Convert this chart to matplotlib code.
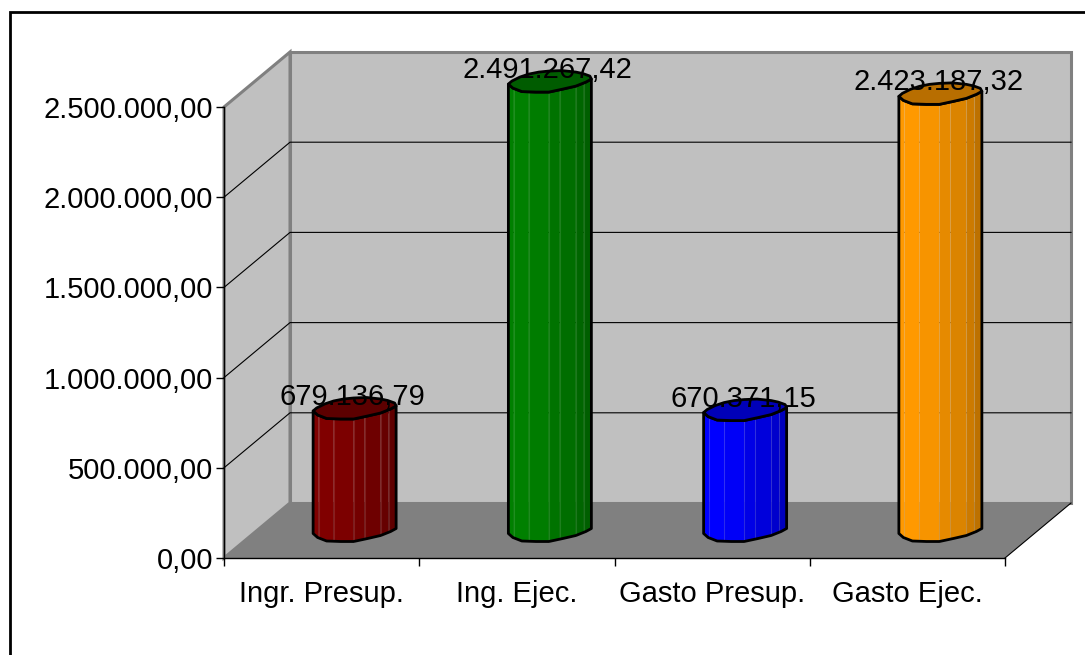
import numpy as np
import matplotlib
matplotlib.use('Agg')
import matplotlib.pyplot as plt
from matplotlib.patches import Polygon

plt.rcParams['font.family'] = ['Liberation Sans', 'DejaVu Sans']

# Data
categorias = ['Ingr. Presup.', 'Ing. Ejec.', 'Gasto Presup.', 'Gasto Ejec.']
valores = [679136.79, 2491267.42, 670371.15, 2423187.32]
etiquetas = ['679.136,79', '2.491.267,42', '670.371,15', '2.423.187,32']
y_ticks = [0, 500000, 1000000, 1500000, 2000000, 2500000]
y_labels = ['0,00', '500.000,00', '1.000.000,00', '1.500.000,00', '2.000.000,00', '2.500.000,00']
colores = ['#800000', '#008000', '#0000FF', '#FF9900']

# Figure layout, in pixels
W, H = 1085, 655
LEFT, RIGHT, TOP, BOTTOM = 224, 1005, 107, 558
DEPTH_X, DEPTH_Y = 66, 55

fig = plt.figure(figsize=(W / 100, H / 100), dpi=100, facecolor='white')
ax = fig.add_axes([LEFT / W, 1 - BOTTOM / H, (RIGHT - LEFT) / W, (BOTTOM - TOP) / H])
ax.set_xlim(0, 4)
ax.set_ylim(0, 2500000)
ax.patch.set_visible(False)

px_x = 4 / (RIGHT - LEFT)
px_y = 2500000 / (BOTTOM - TOP)


def pt(x, y, depth=0.0, ox=0.0, oy=0.0):
    # data point pushed back into the 3d box, with a small offset in pixels
    return (x + (depth * DEPTH_X + ox) * px_x, y + (depth * DEPTH_Y + oy) * px_y)


def poly(points, **kw):
    kw.setdefault('clip_on', False)
    p = Polygon(points, closed=True, **kw)
    ax.add_patch(p)
    return p


# walls and floor
poly([pt(0, 0, 1), pt(4, 0, 1), pt(4, 2500000, 1), pt(0, 2500000, 1)],
     fc='#C0C0C0', ec='#808080', lw=2.2, zorder=1)
poly([pt(0, 0), pt(0, 0, 1), pt(0, 2500000, 1), pt(0, 2500000)],
     fc='#C0C0C0', ec='#808080', lw=2.2, zorder=1)
poly([pt(0, 0), pt(4, 0), pt(4, 0, 1), pt(0, 0, 1)], fc='#808080', ec='none', zorder=2)

# grid lines
for v in y_ticks[1:-1]:
    xs, ys = zip(pt(0, v), pt(0, v, 1), pt(4, v, 1))
    ax.plot(xs, ys, color='black', lw=0.8, zorder=2, clip_on=False)
xs, ys = zip(pt(4, 0), pt(4, 0, 1))
ax.plot(xs, ys, color='black', lw=0.8, zorder=2, clip_on=False)

# bar outline, pixels around the centre of the cylinder end
front = np.array([(-41.5, -3), (-37, -7), (-28, -10.5), (-14, -11), (-1, -11),
                  (13, -8), (26, -5), (36, -1), (41.5, 2)])
back = np.array([(41.5, 2), (40, 5), (33, 7.5), (26, 9), (12, 10.5), (-1, 10),
                 (-11, 9), (-21, 7), (-30, 4), (-38, 0), (-41.5, -3)])
bandas = np.array([-41.5, -36, -21, -1, 10, 26, 34, 41.5])
tonos = [1.0, 1.0, 0.97, 0.9, 0.86, 0.8, 0.74]


def tono(color, f):
    return tuple(c * f for c in matplotlib.colors.to_rgb(color))


for i, (v, c) in enumerate(zip(valores, colores)):
    cx = i + 0.5
    # side of the cylinder, one polygon per facet
    for k in range(len(tonos)):
        a, b = bandas[k], bandas[k + 1]
        dentro = front[(front[:, 0] > a) & (front[:, 0] < b)]
        perfil = [(a, np.interp(a, front[:, 0], front[:, 1]))] + [tuple(q) for q in dentro]
        perfil += [(b, np.interp(b, front[:, 0], front[:, 1]))]
        poly([pt(cx, 0, 0.5, *q) for q in perfil] + [pt(cx, v, 0.5, *q) for q in perfil[::-1]],
             fc=tono(c, tonos[k]), ec='none', zorder=3)
    for b in bandas[1:-1]:
        yb = np.interp(b, front[:, 0], front[:, 1])
        xs, ys = zip(pt(cx, 0, 0.5, b, yb), pt(cx, v, 0.5, b, yb))
        ax.plot(xs, ys, color='white', alpha=0.12, lw=0.8, zorder=3.5, clip_on=False)
    # outline of the side
    lado = [pt(cx, v, 0.5, *q) for q in front[:1]]
    lado += [pt(cx, 0, 0.5, *q) for q in front]
    lado += [pt(cx, v, 0.5, *q) for q in front[::-1]]
    poly(lado, fc='none', ec='black', lw=2.0, joinstyle='round', zorder=4)
    # top of the cylinder
    tapa = [pt(cx, v, 0.5, *q) for q in front] + [pt(cx, v, 0.5, *q) for q in back[1:-1]]
    poly(tapa, fc=tono(c, 0.72), ec='black', lw=2.0, joinstyle='round', zorder=4)
    # value label
    lx, ly = pt(cx, v, 0.5, -2, 11)
    ax.text(lx, ly, etiquetas[i], ha='center', va='center', fontsize=21, color='black',
            zorder=6, clip_on=False)

# axes
for s in ['top', 'right']:
    ax.spines[s].set_visible(False)
for s in ['left', 'bottom']:
    ax.spines[s].set_color('black')
    ax.spines[s].set_linewidth(1.0)
    ax.spines[s].set_zorder(5)
ax.set_yticks(y_ticks)
ax.set_yticklabels(y_labels, fontsize=21)
ax.tick_params(axis='y', length=6, width=1, pad=2)
ax.set_xticks(range(5))
ax.set_xticklabels([])
ax.tick_params(axis='x', length=6, width=1)
ax.set_xticks(np.arange(4) + 0.5, minor=True)
ax.set_xticklabels(categorias, minor=True, fontsize=21)
ax.tick_params(axis='x', which='minor', length=0, pad=16)

# frame of the chart, open on the right and at the bottom of the image
fig.add_artist(plt.Line2D([9.5 / W, 9.5 / W, 1], [0, 1 - 11.5 / H, 1 - 11.5 / H],
                          color='black', lw=2, solid_joinstyle='miter'))

fig.savefig('out.png', dpi=100)
